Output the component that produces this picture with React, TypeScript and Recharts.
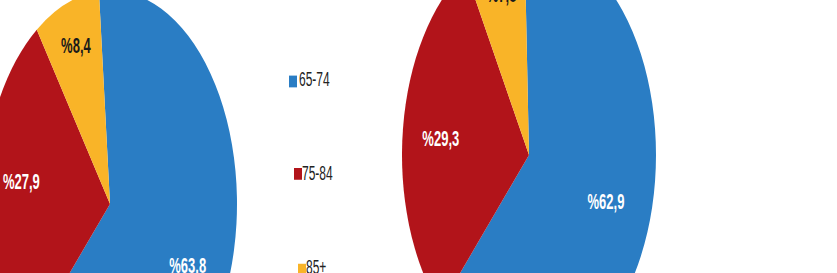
import React from "react";
import { PieChart, Pie, Cell } from "recharts";

// age groups and shares (%) for the two pies
const groups = ["65-74", "75-84", "85+"];
const leftShares = [63.8, 27.9, 8.4];
const rightShares = [62.9, 29.3, 7.8];
const colors = ["#2A7DC4", "#B2141A", "#F9B428"];

const W = 837;
const H = 273;
const S = 1.68; // the original picture is stretched vertically
const OFF = 40; // chart is shifted up, pies are cropped at the top
const FONT = '"Liberation Sans", Arial, sans-serif';

const leftData = groups.map((g, i) => ({ name: g, value: leftShares[i] }));
const rightData = groups.map((g, i) => ({ name: g, value: rightShares[i] }));

const RADIAN = Math.PI / 180;
const labelFactor = [0.65, 0.7, 0.78];

// small nudges so labels sit where the original put them
const makeLabel = (dys: number[]) => (props: any) => {
  const { cx, cy, midAngle, outerRadius, index, value } = props;
  const r = outerRadius * labelFactor[index];
  const x = cx + r * Math.cos(-midAngle * RADIAN);
  const y = cy + r * Math.sin(-midAngle * RADIAN) + dys[index];
  return (
    <text
      x={x}
      y={y}
      fill={index === 2 ? "#1a1a1a" : "#ffffff"}
      textAnchor="middle"
      dominantBaseline="central"
      fontFamily={FONT}
      fontWeight="bold"
      fontSize={13}
    >
      {"%" + value.toFixed(1).replace(".", ",")}
    </text>
  );
};

const leftLabel = makeLabel([9, -6, -1]);
const rightLabel = makeLabel([-2, 1.5, 0]);

// legend placement (unstretched coords)
const legendPos = [
  { sx: 289, sy: 45, tx: 299, ty: 40.5 },
  { sx: 294, sy: 100, tx: 302, ty: 97 },
  { sx: 298, sy: 156.5, tx: 306, ty: 153 },
];

export default function App() {
  return (
    <div
      style={{
        position: "absolute",
        left: 0,
        top: 0,
        width: W,
        height: H,
        overflow: "hidden",
        background: "#fff",
      }}
    >
      <div
        style={{
          position: "relative",
          width: W,
          height: H / S,
          transform: `scaleY(${S})`,
          transformOrigin: "0 0",
        }}
      >
        <div style={{ position: "absolute", left: 0, top: -OFF }}>
          <PieChart width={W} height={320} margin={{ top: 0, right: 0, bottom: 0, left: 0 }}>
            <Pie
              data={leftData}
              dataKey="value"
              cx={110}
              cy={121.4 + OFF}
              outerRadius={127}
              startAngle={95}
              endAngle={-265}
              stroke="none"
              labelLine={false}
              label={leftLabel}
              isAnimationActive={false}
            >
              {leftData.map((d, i) => (
                <Cell key={d.name} fill={colors[i]} />
              ))}
            </Pie>
            <Pie
              data={rightData}
              dataKey="value"
              cx={529}
              cy={92.3 + OFF}
              outerRadius={127}
              startAngle={92}
              endAngle={-268}
              stroke="none"
              labelLine={false}
              label={rightLabel}
              isAnimationActive={false}
            >
              {rightData.map((d, i) => (
                <Cell key={d.name} fill={colors[i]} />
              ))}
            </Pie>
          </PieChart>
        </div>

        {/* legend */}
        {groups.map((g, i) => (
          <React.Fragment key={g}>
            <div
              style={{
                position: "absolute",
                left: legendPos[i].sx,
                top: legendPos[i].sy,
                width: 8,
                height: 7,
                background: colors[i],
              }}
            />
            <div
              style={{
                position: "absolute",
                left: legendPos[i].tx,
                top: legendPos[i].ty,
                fontFamily: FONT,
                fontSize: 12,
                lineHeight: "12px",
                color: "#222",
                whiteSpace: "nowrap",
              }}
            >
              {g}
            </div>
          </React.Fragment>
        ))}
      </div>
    </div>
  );
}
